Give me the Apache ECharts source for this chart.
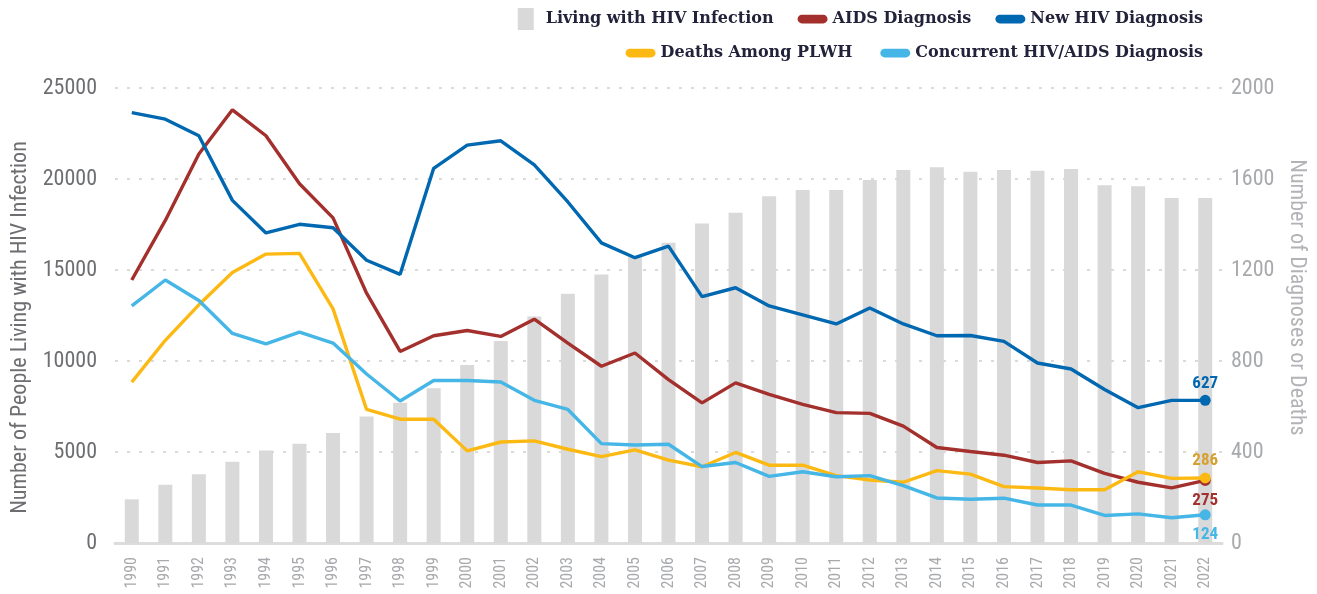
<!DOCTYPE html>
<html>
<head>
<meta charset="utf-8">
<script src="https://cdn.jsdelivr.net/npm/echarts@6/dist/echarts.min.js"></script>
<style>
  html, body { margin: 0; padding: 0; background: #fff; }
  #chart { width: 1317px; height: 594px; }
</style>
</head>
<body>
<div id="chart"></div>
<script>
const years = ['1990','1991','1992','1993','1994','1995','1996','1997','1998','1999','2000','2001','2002','2003','2004','2005','2006','2007','2008','2009','2010','2011','2012','2013','2014','2015','2016','2017','2018','2019','2020','2021','2022']

// left axis: people living with HIV
const livingHIV = [2400, 3200, 3780, 4470, 5080, 5450, 6050, 6950, 7700, 8500, 9780, 11100, 12450, 13700, 14750, 15700, 16500, 17550, 18150, 19050, 19400, 19400, 19950, 20500, 20650, 20400, 20500, 20450, 20550, 19650, 19600, 18950, 18950]

// right axis: diagnoses / deaths
const aidsDx = [1156, 1418, 1710, 1904, 1790, 1579, 1429, 1098, 842, 911, 934, 908, 984, 879, 777, 835, 718, 616, 704, 653, 609, 573, 570, 514, 420, 402, 386, 354, 361, 306, 267, 242, 275]
const newHIVDx = [1892, 1863, 1790, 1506, 1363, 1401, 1386, 1243, 1181, 1647, 1749, 1768, 1662, 1499, 1319, 1254, 1305, 1083, 1122, 1042, 1003, 963, 1033, 963, 911, 912, 886, 791, 765, 675, 595, 627, 627]
const deaths = [707, 891, 1047, 1189, 1270, 1273, 1029, 587, 544, 544, 405, 444, 449, 412, 380, 409, 364, 335, 398, 342, 342, 296, 277, 267, 318, 303, 248, 242, 234, 234, 313, 284, 286]
const concurrent = [1042, 1156, 1066, 921, 875, 927, 879, 743, 624, 714, 714, 708, 627, 587, 437, 431, 434, 336, 354, 293, 313, 291, 296, 252, 198, 192, 197, 167, 167, 121, 128, 111, 124]

const narrow = '"Roboto Condensed", "DejaVu Sans Condensed", "Liberation Sans Narrow", "DejaVu Sans", sans-serif'
const lineIcon = 'path://M3.5,0h17a3.5,3.5 0 0 1 0,7h-17a3.5,3.5 0 0 1 0,-7z'
const plain = v => String(v)

// only the last point gets a dot and a value label
function endMarked(arr, pos, labelColor) {
  return arr.map((v, i) => {
    if (i < arr.length - 1) return v
    return {
      value: v,
      symbol: 'circle',
      symbolSize: 11,
      label: {
        show: true, position: pos, distance: pos === 'top' ? 3 : 6,
        fontFamily: narrow, fontStyle: 'condensed', fontWeight: 'bold', fontSize: 17, color: labelColor
      }
    }
  })
}

function lineSeries(name, arr, color, pos, labelColor) {
  return {
    name: name,
    type: 'line',
    yAxisIndex: 1,
    color: color,
    symbol: 'none',
    z: 3,
    lineStyle: { width: 3.4, color: color },
    itemStyle: { color: color },
    data: endMarked(arr, pos, labelColor)
  }
}

const legendText = { fontFamily: '"DejaVu Serif", serif', fontWeight: 'bold', fontSize: 16, color: '#22223a' }

const option = {
  animation: false,
  grid: { left: 115, right: 95, top: 88, bottom: 51, outerBoundsMode: 'none', containLabel: false },
  legend: [
    {
      data: [
        { name: 'Living with HIV Infection', icon: 'path://M0,0h16v22h-16z' },
        { name: 'AIDS Diagnosis', icon: lineIcon },
        { name: 'New HIV Diagnosis', icon: lineIcon }
      ],
      right: 109, top: 3, itemGap: 24, itemWidth: 30, itemHeight: 22,
      symbolKeepAspect: true, textStyle: legendText
    },
    {
      data: [
        { name: 'Deaths Among PLWH', icon: lineIcon },
        { name: 'Concurrent HIV/AIDS Diagnosis', icon: lineIcon }
      ],
      right: 109, top: 40, itemGap: 28, itemWidth: 30, itemHeight: 22,
      symbolKeepAspect: true, textStyle: legendText
    }
  ],
  xAxis: {
    type: 'category',
    data: years,
    axisLine: { lineStyle: { color: '#dcdcdc', width: 3 } },
    axisTick: { show: false },
    axisLabel: { rotate: 90, margin: 14, fontFamily: narrow, fontStyle: 'condensed', fontSize: 16, color: '#a7a9ac' }
  },
  yAxis: [
    {
      type: 'value', min: 0, max: 25000, interval: 5000,
      name: 'Number of People Living with HIV Infection',
      nameLocation: 'middle', nameGap: 83,
      nameTextStyle: { fontFamily: narrow, fontStyle: 'condensed', fontSize: 22, color: '#6d6e71', padding: [0, 24, 0, 0] },
      axisLabel: { margin: 18, fontFamily: narrow, fontStyle: 'condensed', fontSize: 22, color: '#6d6e71', formatter: plain },
      splitLine: { lineStyle: { type: [3, 9], color: '#dadada', width: 2 } }
    },
    {
      type: 'value', min: 0, max: 2000, interval: 400,
      name: 'Number of Diagnoses or Deaths',
      nameLocation: 'middle', nameGap: 54, nameRotate: -90,
      nameTextStyle: { fontFamily: narrow, fontStyle: 'condensed', fontSize: 22, color: '#b1b3b6', padding: [0, 36, 0, 0] },
      axisLabel: { margin: 9, fontFamily: narrow, fontStyle: 'condensed', fontSize: 22, color: '#a7a9ac', formatter: plain },
      splitLine: { show: false }
    }
  ],
  series: [
    {
      name: 'Living with HIV Infection',
      type: 'bar',
      barWidth: 14,
      color: '#d9d9d9',
      itemStyle: { color: '#d9d9d9' },
      z: 1,
      data: livingHIV
    },
    lineSeries('AIDS Diagnosis', aidsDx, '#a3302c', 'bottom', '#a3302c'),
    lineSeries('New HIV Diagnosis', newHIVDx, '#0067b1', 'top', '#0067b1'),
    lineSeries('Deaths Among PLWH', deaths, '#fdb913', 'top', '#d6a030'),
    lineSeries('Concurrent HIV/AIDS Diagnosis', concurrent, '#45b6e6', 'bottom', '#45b6e6')
  ]
}

const chart = echarts.init(document.getElementById('chart'))
chart.setOption(option)
</script>
</body>
</html>
